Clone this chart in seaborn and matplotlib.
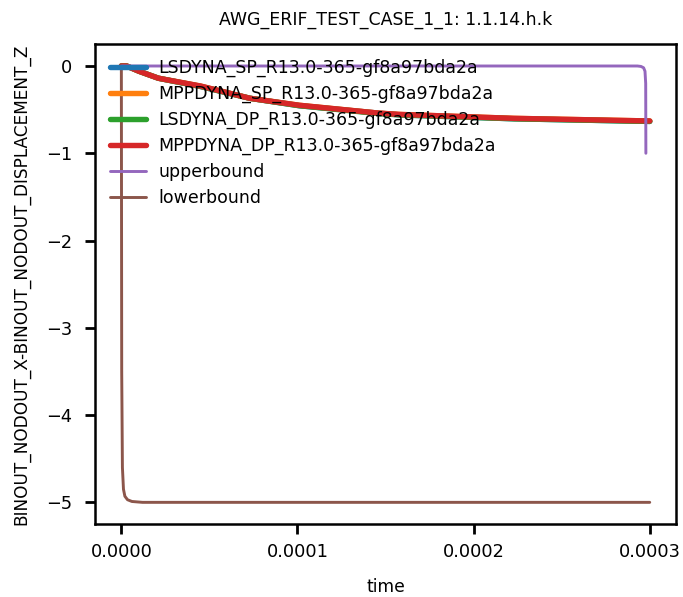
import matplotlib
matplotlib.use("Agg")
import matplotlib.pyplot as plt
import seaborn as sns
import numpy as np

# -------------------------------
# data
# -------------------------------
title = "AWG_ERIF_TEST_CASE_1_1: 1.1.14.h.k"
x_label = "time"
y_label = "BINOUT_NODOUT_X-BINOUT_NODOUT_DISPLACEMENT_Z"

run_names = [
    "LSDYNA_SP_R13.0-365-gf8a97bda2a",
    "MPPDYNA_SP_R13.0-365-gf8a97bda2a",
    "LSDYNA_DP_R13.0-365-gf8a97bda2a",
    "MPPDYNA_DP_R13.0-365-gf8a97bda2a",
]

run_time = [0.0, 0.000003, 0.000010, 0.000021, 0.000045, 0.000073,
            0.000101, 0.000146, 0.000158, 0.000223, 0.000300]
run_disp = {
    "LSDYNA_SP_R13.0-365-gf8a97bda2a": [0.0, 0.0, -0.06, -0.14, -0.235, -0.37,
                                        -0.455, -0.54, -0.56, -0.605, -0.635],
    "MPPDYNA_SP_R13.0-365-gf8a97bda2a": [0.0, 0.0, -0.06, -0.14, -0.23, -0.37,
                                         -0.45, -0.54, -0.555, -0.60, -0.63],
    "LSDYNA_DP_R13.0-365-gf8a97bda2a": [0.0, 0.0, -0.06, -0.14, -0.235, -0.37,
                                        -0.455, -0.545, -0.56, -0.605, -0.635],
    "MPPDYNA_DP_R13.0-365-gf8a97bda2a": [0.0, 0.0, -0.06, -0.14, -0.23, -0.37,
                                         -0.45, -0.54, -0.555, -0.60, -0.63],
}

upper_time = [0.0, 0.000150, 0.000293, 0.000295, 0.0002965, 0.0002973, 0.0002977, 0.0002978]
upper_disp = [0.0, 0.0, 0.0, -0.005, -0.02, -0.06, -0.2, -1.0]

lower_time = [0.0, 0.0000002, 0.0000006, 0.0000012, 0.000002, 0.0000035,
              0.000006, 0.000012, 0.000050, 0.000300]
lower_disp = [0.0, -3.5, -4.6, -4.85, -4.93, -4.97, -4.99, -5.0, -5.0, -5.0]

colors = sns.color_palette("tab10", 6)

# -------------------------------
# plot
# -------------------------------
sns.set_theme(style="ticks", context="notebook")
plt.rcParams["font.family"] = ["DejaVu Sans"]
plt.rcParams.update({
    "text.color": "black",
    "axes.labelcolor": "black",
    "axes.edgecolor": "black",
    "xtick.color": "black",
    "ytick.color": "black",
})

fig, ax = plt.subplots(figsize=(6.83, 5.97), dpi=100)
fig.subplots_adjust(left=0.139, right=0.99, top=0.926, bottom=0.122)

for i, name in enumerate(run_names):
    sns.lineplot(x=run_time, y=run_disp[name], ax=ax, color=colors[i],
                 lw=3.9, label=name, errorbar=None)
sns.lineplot(x=upper_time, y=upper_disp, ax=ax, color=colors[4], lw=2.1,
             label="upperbound", errorbar=None)
sns.lineplot(x=lower_time, y=lower_disp, ax=ax, color=colors[5], lw=2.1,
             label="lowerbound", errorbar=None)

ax.set_xticks([0.0, 0.0001, 0.0002, 0.0003])
ax.set_xticklabels(["0.0000", "0.0001", "0.0002", "0.0003"])
ax.set_xlabel(x_label, fontsize=12.3, labelpad=12)
ax.set_ylabel(y_label, fontsize=12.2, labelpad=11)
ax.set_title(title, fontsize=12.5, pad=14)
ax.tick_params(labelsize=12.8, length=7.5, width=2)
ax.tick_params(axis="x", pad=6)
ax.tick_params(axis="y", pad=9)
for s in ax.spines.values():
    s.set_visible(True)
    s.set_linewidth(1.8)

ax.legend(loc="upper left", frameon=False, fontsize=12.5, borderaxespad=0.45,
          handlelength=2.1, handletextpad=0.7, labelspacing=0.45)

fig.savefig("out.png", dpi=100)
